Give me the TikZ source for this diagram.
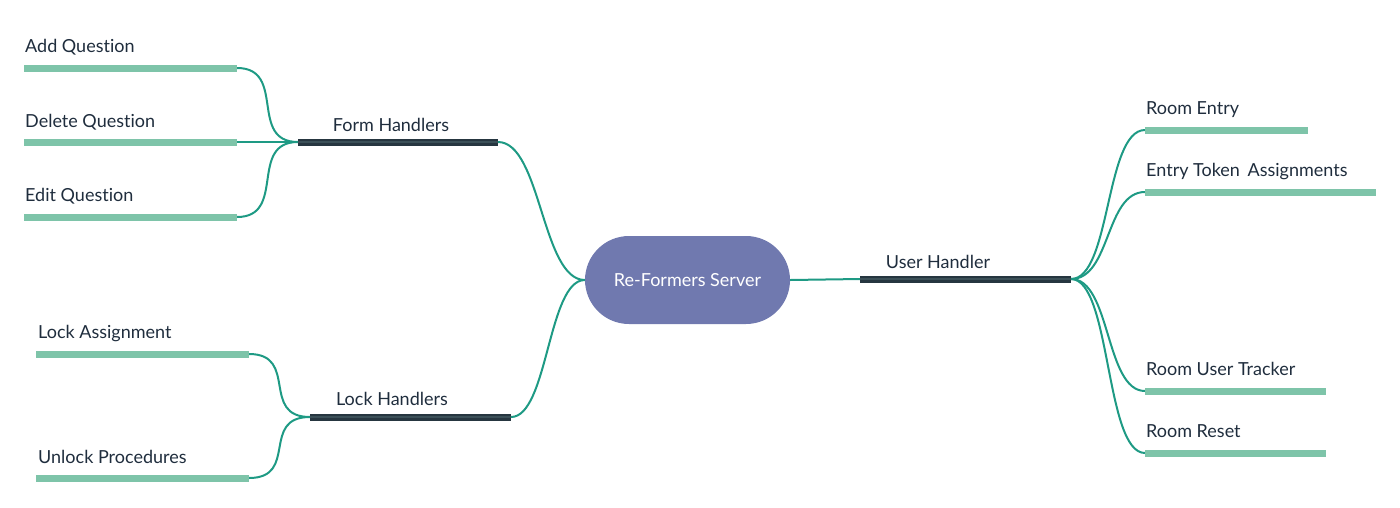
\documentclass[tikz,border=0pt]{standalone}
\usepackage{fontspec}
\setmainfont[Ligatures=NoCommon]{Lato}
\definecolor{leafbar}{HTML}{7EC4A9}
\definecolor{hubbar}{HTML}{263640}
\definecolor{hubmid}{HTML}{3B5058}
\definecolor{conncol}{HTML}{1E9A84}
\definecolor{srvfill}{HTML}{7079AF}
\definecolor{txtcol}{HTML}{1F2D3D}
\tikzset{
  leaf/.style={line width=7pt, draw=leafbar},
  hub/.style={line width=7pt, draw=hubbar, postaction={draw=hubmid, line width=1.5pt}},
  conn/.style={line width=2pt, draw=conncol},
  lbl/.style={anchor=base west, inner sep=0pt, text=txtcol, font=\fontsize{18}{20}\selectfont},
  hlbl/.style={anchor=base, inner sep=0pt, text=txtcol, font=\fontsize{18}{20}\selectfont},
}
\begin{document}
\begin{tikzpicture}[x=1pt,y=-1pt]
\useasboundingbox (0,0) rectangle (1400,507);
% server
\node[fill=srvfill, rectangle, rounded corners=44pt, minimum width=205pt, minimum height=88pt, inner sep=0pt,
  text=white, font=\fontsize{18}{20}\selectfont] (srv) at (687.5,280) {Re-Formers Server};
% coordinates of bars
\coordinate (formL) at (298,142); \coordinate (formR) at (498,142);
\coordinate (lockL) at (310,417); \coordinate (lockR) at (511,417);
\coordinate (userL) at (860,279); \coordinate (userR) at (1071,279);
\coordinate (addL) at (24,68);  \coordinate (addR) at (237,68);
\coordinate (delL) at (24,142); \coordinate (delR) at (237,142);
\coordinate (editL) at (24,217); \coordinate (editR) at (237,217);
\coordinate (laL) at (36,354); \coordinate (laR) at (249,354);
\coordinate (ulL) at (36,478); \coordinate (ulR) at (249,478);
\coordinate (reL) at (1145,130); \coordinate (reR) at (1308,130);
\coordinate (etL) at (1145,192); \coordinate (etR) at (1376,192);
\coordinate (utL) at (1145,391); \coordinate (utR) at (1326,391);
\coordinate (rrL) at (1145,453); \coordinate (rrR) at (1326,453);
% connectors
\draw[conn] (formR) .. controls +(43,0) and +(-43,0) .. (srv.west);
\draw[conn] (lockR) .. controls +(37,0) and +(-37,0) .. (srv.west);
\draw[conn] (srv.east) -- (userL);
\draw[conn] (formL) .. controls +(-50,0) and +(50,0) .. (addR);
\draw[conn] (formL) -- (delR);
\draw[conn] (formL) .. controls +(-50,0) and +(50,0) .. (editR);
\draw[conn] (lockL) .. controls +(-50,0) and +(50,0) .. (laR);
\draw[conn] (lockL) .. controls +(-50,0) and +(50,0) .. (ulR);
\draw[conn] (userR) .. controls +(40,0) and +(-40,0) .. (reL);
\draw[conn] (userR) .. controls +(40,0) and +(-40,0) .. (etL);
\draw[conn] (userR) .. controls +(40,0) and +(-40,0) .. (utL);
\draw[conn] (userR) .. controls +(40,0) and +(-40,0) .. (rrL);
% bars
\draw[hub] (formL) -- (formR);
\draw[hub] (lockL) -- (lockR);
\draw[hub] (userL) -- (userR);
\draw[leaf] (addL) -- (addR);
\draw[leaf] (delL) -- (delR);
\draw[leaf] (editL) -- (editR);
\draw[leaf] (laL) -- (laR);
\draw[leaf] (ulL) -- (ulR);
\draw[leaf] (reL) -- (reR);
\draw[leaf] (etL) -- (etR);
\draw[leaf] (utL) -- (utR);
\draw[leaf] (rrL) -- (rrR);
% labels
\node[hlbl] (formT) at (391,131) {Form Handlers};
\node[hlbl] (lockT) at (392,405) {Lock Handlers};
\node[hlbl] (userT) at (938,268) {User Handler};
\node[lbl] (addT) at (25,52) {Add Question};
\node[lbl] (delT) at (25,127) {Delete Question};
\node[lbl] (editT) at (25,201) {Edit Question};
\node[lbl] (laT) at (38,338) {Lock Assignment};
\node[lbl] (ulT) at (38,463) {Unlock Procedures};
\node[lbl] (reT) at (1146,114) {Room Entry};
\node[lbl] (etT) at (1146,176) {Entry Token\, Assignments};
\node[lbl] (utT) at (1146,375) {Room User Tracker};
\node[lbl] (rrT) at (1146,437) {Room Reset};
\end{tikzpicture}
\end{document}
